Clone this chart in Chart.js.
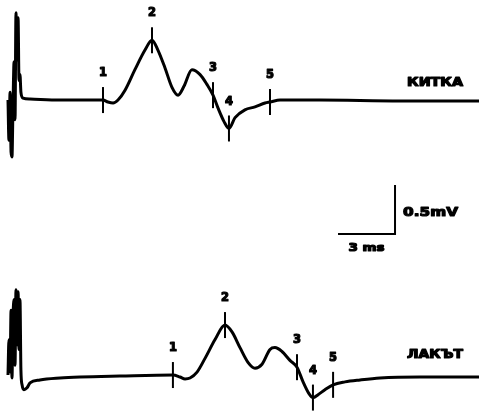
<!DOCTYPE html>
<html>
<head>
<meta charset="utf-8">
<script src="https://cdn.jsdelivr.net/npm/chart.js@4/dist/chart.umd.min.js"></script>
<style>
  html, body { margin: 0; padding: 0; background: #fff; }
  #wrap { width: 479px; height: 416px; }
</style>
</head>
<body>
<div id="wrap"><canvas id="c" width="479" height="416"></canvas></div>
<script>
// Time after stimulus (ms) and amplitude (mV, relative to each trace baseline)
const wristTime = [0, 0.05, 0.11, 0.16, 0.21, 0.26, 0.32, 0.37, 0.42, 0.47, 0.53, 0.58, 0.63, 0.68, 0.79, 1.16, 2.74, 5.0, 5.26, 5.53, 5.79, 6.16, 6.68, 7.21, 7.58, 7.89, 8.26, 8.63, 8.95, 9.26, 9.68, 10.11, 10.47, 10.79, 11.05, 11.37, 11.63, 11.95, 12.47, 13.0, 13.53, 13.79, 14.32, 16.42, 20.63, 24.79];
const wristAmp  = [0, -0.41, 0.08, -0.53, -0.58, -0.10, 0.39, -0.20, 0.89, 0.41, 0.84, 0.20, 0.26, 0.08, 0.02, 0.01, 0, 0, -0.02, -0.03, 0, 0.10, 0.31, 0.51, 0.61, 0.51, 0.33, 0.13, 0.05, 0.14, 0.31, 0.26, 0.16, 0.05, -0.08, -0.22, -0.29, -0.18, -0.10, -0.07, -0.03, -0.02, 0, 0, -0.01, -0.01];

const elbowTime = [0, 0.05, 0.11, 0.16, 0.21, 0.26, 0.32, 0.37, 0.42, 0.47, 0.53, 0.58, 0.63, 0.68, 0.74, 0.84, 1.0, 1.16, 1.68, 2.74, 3.79, 5.89, 8.68, 9.05, 9.32, 9.58, 9.95, 10.37, 10.89, 11.42, 11.79, 12.21, 12.63, 13.0, 13.37, 13.79, 14.05, 14.42, 14.84, 15.21, 15.53, 15.84, 16.05, 16.32, 16.68, 17.11, 17.74, 18.53, 19.58, 21.68, 24.79];
const elbowAmp  = [0.02, 0.38, 0.05, 0.68, -0.01, 0.58, 0.79, 0.12, 0.89, 0.33, 0.87, 0.28, 0.79, 0.07, -0.08, -0.13, -0.11, -0.06, -0.03, -0.01, 0, 0.01, 0.02, 0, -0.02, -0.01, 0.05, 0.19, 0.38, 0.53, 0.46, 0.30, 0.15, 0.09, 0.13, 0.28, 0.30, 0.26, 0.17, 0.10, -0.05, -0.17, -0.21, -0.18, -0.13, -0.08, -0.05, -0.03, -0.01, 0, 0];

// Numbered latency markers (ms, mV)
const markerLabels = ['1', '2', '3', '4', '5'];
const wristMarkTime = [5.0, 7.58, 10.79, 11.63, 13.79];
const wristMarkAmp  = [0, 0.61, 0.05, -0.29, -0.02];
const elbowMarkTime = [8.68, 11.42, 15.21, 16.05, 17.11];
const elbowMarkAmp  = [0.02, 0.53, 0.10, -0.21, -0.08];

// Trace names and calibration bar
const traceNames = ['КИТКА', 'ЛАКЪТ'];
const calTime = 3;     // ms
const calAmp = 0.5;    // mV
const calLabels = ['0.5mV', '3 ms'];

// Vertical placement of each trace baseline on the shared mV axis
const wristBase = 3.224;
const elbowBase = 0.398;
const calCorner = { x: 20.37, y: 1.857 };

const toPts = (t, a, base) => t.map((x, i) => ({ x, y: a[i] + base }));

// Heavy, wide lettering: text stretched to a given width and thickened with an outline
function wideText(ctx, text, x, y, width, align) {
  const w = ctx.measureText(text).width;
  const sx = width / w;
  ctx.save();
  const left = align === 'right' ? x - width : align === 'center' ? x - width / 2 : x;
  ctx.translate(left, y);
  ctx.scale(sx, 1);
  ctx.textAlign = 'left';
  ctx.lineWidth = 1.2;
  ctx.lineJoin = 'round';
  ctx.strokeText(text, 0, 0);
  ctx.fillText(text, 0, 0);
  ctx.restore();
}

const annotate = {
  id: 'annotate',
  afterDatasetsDraw(chart) {
    const { ctx, scales: { x, y } } = chart;
    ctx.save();
    ctx.strokeStyle = '#000';
    ctx.fillStyle = '#000';
    ctx.textBaseline = 'middle';
    ctx.font = 'bold 12px "DejaVu Sans", sans-serif';
    const drawMarks = (times, amps, base) => {
      times.forEach((t, i) => {
        const px = x.getPixelForValue(t);
        const py = y.getPixelForValue(amps[i] + base);
        ctx.lineWidth = 2;
        ctx.beginPath();
        ctx.moveTo(px, py - 13);
        ctx.lineTo(px, py + 13);
        ctx.stroke();
        wideText(ctx, markerLabels[i], px, py - 27, 8, 'center');
      });
    };
    drawMarks(wristMarkTime, wristMarkAmp, wristBase);
    drawMarks(elbowMarkTime, elbowMarkAmp, elbowBase);

    ctx.font = 'bold 12px "DejaVu Sans", sans-serif';
    wideText(ctx, traceNames[0], 463, y.getPixelForValue(wristBase) - 17, 56, 'right');
    wideText(ctx, traceNames[1], 463, y.getPixelForValue(elbowBase) - 22, 56, 'right');

    const cx = x.getPixelForValue(calCorner.x);
    const cy = y.getPixelForValue(calCorner.y);
    ctx.font = 'bold 13px "DejaVu Sans", sans-serif';
    wideText(ctx, calLabels[0], cx + 8, y.getPixelForValue(calCorner.y + calAmp * 0.43), 55, 'left');
    ctx.font = 'bold 11px "DejaVu Sans", sans-serif';
    wideText(ctx, calLabels[1], x.getPixelForValue(calCorner.x - calTime / 2), cy + 14, 36, 'center');
    ctx.restore();
  }
};

const traceStyle = { borderColor: '#000', borderWidth: 3, pointRadius: 0, cubicInterpolationMode: 'monotone' };

new Chart(document.getElementById('c'), {
  type: 'line',
  data: {
    datasets: [
      { data: toPts(wristTime, wristAmp, wristBase), ...traceStyle },
      { data: toPts(elbowTime, elbowAmp, elbowBase), ...traceStyle },
      {
        data: [
          { x: calCorner.x - calTime, y: calCorner.y },
          { x: calCorner.x, y: calCorner.y },
          { x: calCorner.x, y: calCorner.y + calAmp }
        ],
        borderColor: '#000', borderWidth: 2, pointRadius: 0, tension: 0
      }
    ]
  },
  options: {
    responsive: false,
    animation: false,
    layout: { padding: 0 },
    plugins: { legend: { display: false }, tooltip: { enabled: false } },
    scales: {
      x: { type: 'linear', min: -0.421, max: 24.79, display: false },
      y: { type: 'linear', min: 0, max: 4.245, display: false }
    }
  },
  plugins: [annotate]
});
</script>
</body>
</html>
